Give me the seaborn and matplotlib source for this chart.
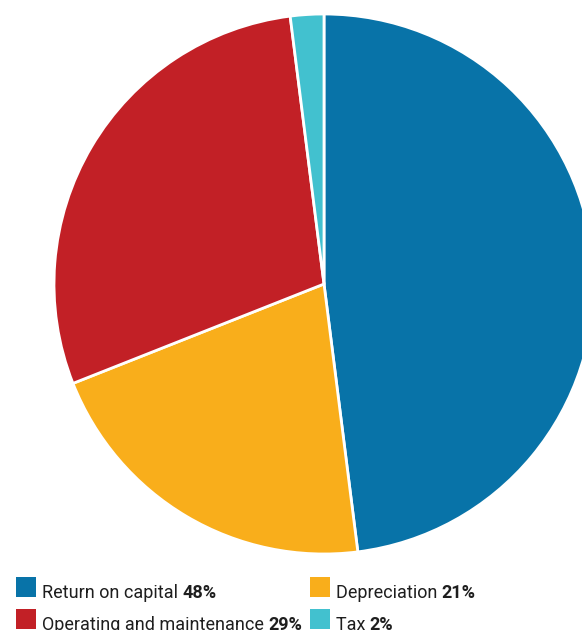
import matplotlib
matplotlib.use("Agg")
import matplotlib.pyplot as plt
import seaborn as sns
from matplotlib.patches import Rectangle

labels = ["Return on capital", "Depreciation", "Operating and maintenance", "Tax"]
values = [48, 21, 29, 2]
pct_labels = ["48%", "21%", "29%", "2%"]
colors = ["#0873A8", "#F9AE1B", "#C22026", "#42C1CF"]

sns.set_theme(style="white")
plt.rcParams['font.family'] = ['Roboto', 'DejaVu Sans']

W, H = 582, 630
fig = plt.figure(figsize=(W / 100, H / 100), dpi=100)
ax = fig.add_axes([0, 0, 1, 1])
cx, cy, r = 324, 284, 270
ax.pie(values, colors=colors, startangle=90, counterclock=False,
       wedgeprops=dict(edgecolor="white", linewidth=2))
ax.set_xlim(-cx / r, (W - cx) / r)
ax.set_ylim((cy - H) / r, cy / r)
ax.set_aspect("auto")
ax.axis("off")

# legend (figure pixel coordinates: square x, square top, text x, baseline)
positions = [(16, 577, 42, 598), (310, 577, 336, 598),
             (16, 609, 42, 630), (310, 609, 336, 630)]
fig.canvas.draw()
renderer = fig.canvas.get_renderer()
for i, (sx, sy, tx, ty) in enumerate(positions):
    fig.patches.append(Rectangle((sx / W, 1 - (sy + 20) / H), 20 / W, 20 / H,
                                 transform=fig.transFigure, facecolor=colors[i],
                                 edgecolor="none"))
    t = fig.text(tx / W, 1 - ty / H, labels[i] + " ", fontsize=13,
                 color="#1e1e1e", va="baseline", ha="left")
    bb = t.get_window_extent(renderer=renderer)
    fig.text(bb.x1 / W, 1 - ty / H, pct_labels[i], fontsize=13,
             color="#1e1e1e", fontweight="bold", va="baseline", ha="left")

fig.savefig("out.png", dpi=100)
